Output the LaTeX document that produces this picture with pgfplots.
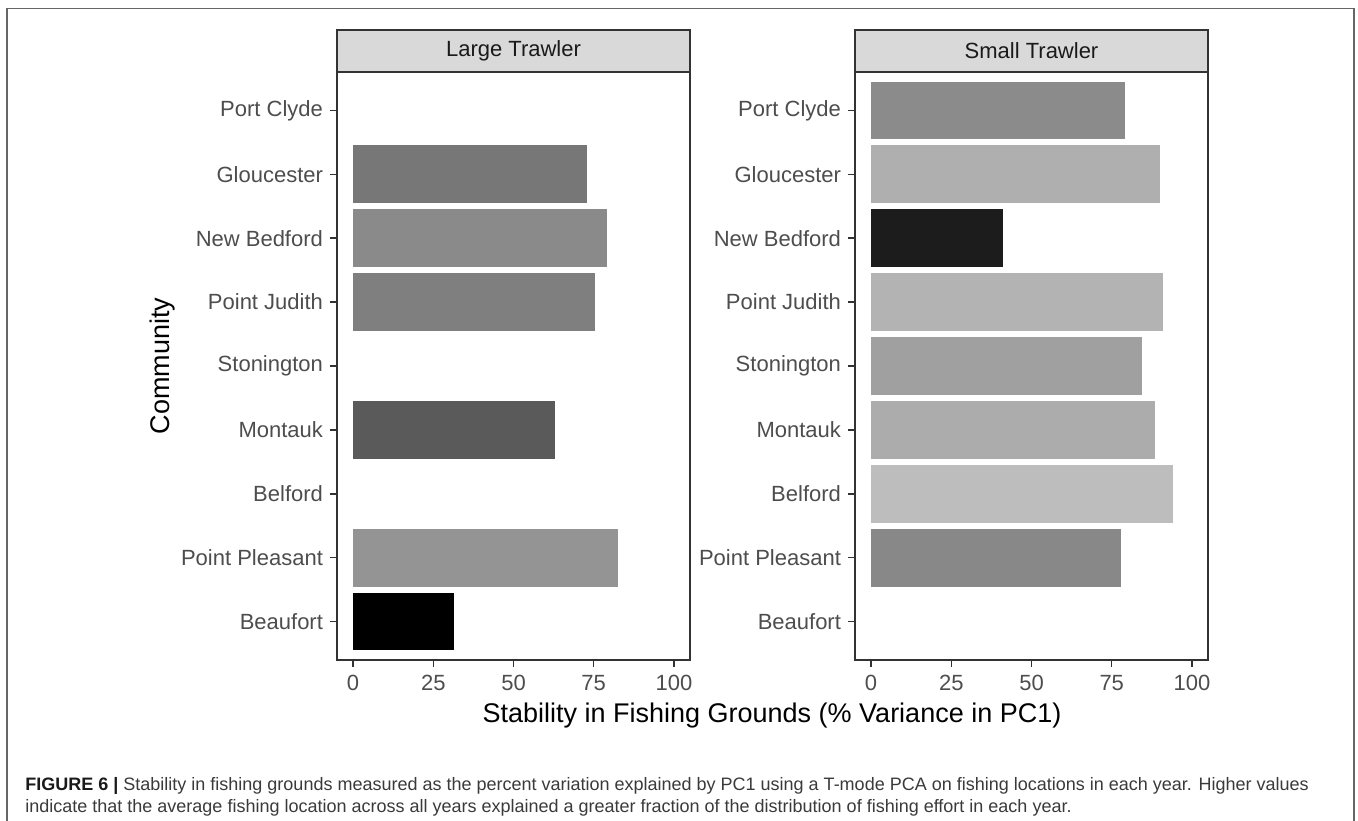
\documentclass[border=0pt]{standalone}
\usepackage{pgfplots}
\pgfplotsset{compat=1.18}
\usepackage{fontspec}
\setmainfont{Liberation Sans}
\definecolor{grey20}{HTML}{333333}
\definecolor{grey30}{HTML}{4D4D4D}
\definecolor{grey10}{HTML}{1A1A1A}
\definecolor{stripfill}{HTML}{D9D9D9}
\definecolor{framec}{HTML}{666666}
\definecolor{captc}{HTML}{3A3A3A}
% bar fills (gradient by value)
\definecolor{LGlo}{HTML}{777777}
\definecolor{LNB}{HTML}{8A8A8A}
\definecolor{LPJ}{HTML}{7F7F7F}
\definecolor{LMon}{HTML}{5A5A5A}
\definecolor{LPP}{HTML}{949494}
\definecolor{LBeau}{HTML}{000000}
\definecolor{RPC}{HTML}{8B8B8B}
\definecolor{RGlo}{HTML}{AFAFAF}
\definecolor{RNB}{HTML}{1C1C1C}
\definecolor{RPJ}{HTML}{B3B3B3}
\definecolor{RSto}{HTML}{A0A0A0}
\definecolor{RMon}{HTML}{ACACAC}
\definecolor{RBel}{HTML}{BDBDBD}
\definecolor{RPP}{HTML}{888888}
\pgfplotsset{
  facet/.style={
    scale only axis, width=176.5pt, height=294pt,
    anchor=south west, clip=false,
    xmin=-5, xmax=105, ymin=0.4, ymax=9.6,
    xbar, bar width=0.9,
    ytick={1,2,3,4,5,6,7,8,9},
    yticklabels={Beaufort,Point Pleasant,Belford,Montauk,Stonington,Point Judith,New Bedford,Gloucester,Port Clyde},
    xtick={0,25,50,75,100},
    xtick pos=bottom, ytick pos=left,
    tick align=outside, major tick length=3.3pt,
    every tick/.style={draw=grey20, line width=0.7pt},
    axis line style={draw=grey20, line width=0.7pt},
    ticklabel style={font=\fontsize{11}{13}\selectfont, text=grey30},
    yticklabel style={xshift=-0.2pt},
    xticklabel style={yshift=-0.6pt},
    /pgf/number format/assume math mode=true,
  },
  bb/.style={draw=none, fill=#1, bar shift=0pt},
}
\begin{document}
\begin{tikzpicture}
\useasboundingbox (0,0) rectangle (679pt,410pt);
\draw[framec, line width=0.8pt] (3.5pt,-5pt) -- (3.5pt,405.7pt) -- (677pt,405.7pt) -- (677pt,-5pt);

\begin{axis}[facet, name=L, at={(168.5pt,80pt)}]
\addplot[bb=LGlo] coordinates {(73,8)};
\addplot[bb=LNB] coordinates {(79,7)};
\addplot[bb=LPJ] coordinates {(75.5,6)};
\addplot[bb=LMon] coordinates {(63,4)};
\addplot[bb=LPP] coordinates {(82.5,2)};
\addplot[bb=LBeau] coordinates {(31.5,1)};
\end{axis}
\draw[fill=stripfill, draw=grey20, line width=0.7pt] (L.north west) rectangle ([yshift=21pt]L.north east);
\draw[grey20, line width=1pt] (L.north west) -- (L.north east);
\node[text=grey10, font=\fontsize{11}{13}\selectfont] at ([yshift=10.5pt]L.north) {Large Trawler};

\begin{axis}[facet, name=R, at={(427.5pt,80pt)}]
\addplot[bb=RPC] coordinates {(79,9)};
\addplot[bb=RGlo] coordinates {(90,8)};
\addplot[bb=RNB] coordinates {(41,7)};
\addplot[bb=RPJ] coordinates {(91,6)};
\addplot[bb=RSto] coordinates {(84.5,5)};
\addplot[bb=RMon] coordinates {(88.5,4)};
\addplot[bb=RBel] coordinates {(94,3)};
\addplot[bb=RPP] coordinates {(78,2)};
\end{axis}
\draw[fill=stripfill, draw=grey20, line width=0.7pt] (R.north west) rectangle ([yshift=21pt]R.north east);
\draw[grey20, line width=1pt] (R.north west) -- (R.north east);
\node[text=grey10, font=\fontsize{11}{13}\selectfont] at ([yshift=10.5pt]R.north) {Small Trawler};

\node[font=\fontsize{13.5}{16}\selectfont] at (386pt,52pt) {Stability in Fishing Grounds (\% Variance in PC1)};
\node[rotate=90, font=\fontsize{13.5}{16}\selectfont] at (81.5pt,227pt) {Community};

\node[anchor=base west, inner sep=0pt, text=captc, font=\fontsize{9}{11}\selectfont] at (12.5pt,14.7pt)
  {{\bfseries\color{grey10}FIGURE 6 |} Stability in fishing grounds measured as the percent variation explained by PC1 using a T-mode PCA on fishing locations in each year. Higher values};
\node[anchor=base west, inner sep=0pt, text=captc, font=\fontsize{9}{11}\selectfont] at (12.5pt,3.7pt)
  {indicate that the average fishing location across all years explained a greater fraction of the distribution of fishing effort in each year.};
\end{tikzpicture}
\end{document}
